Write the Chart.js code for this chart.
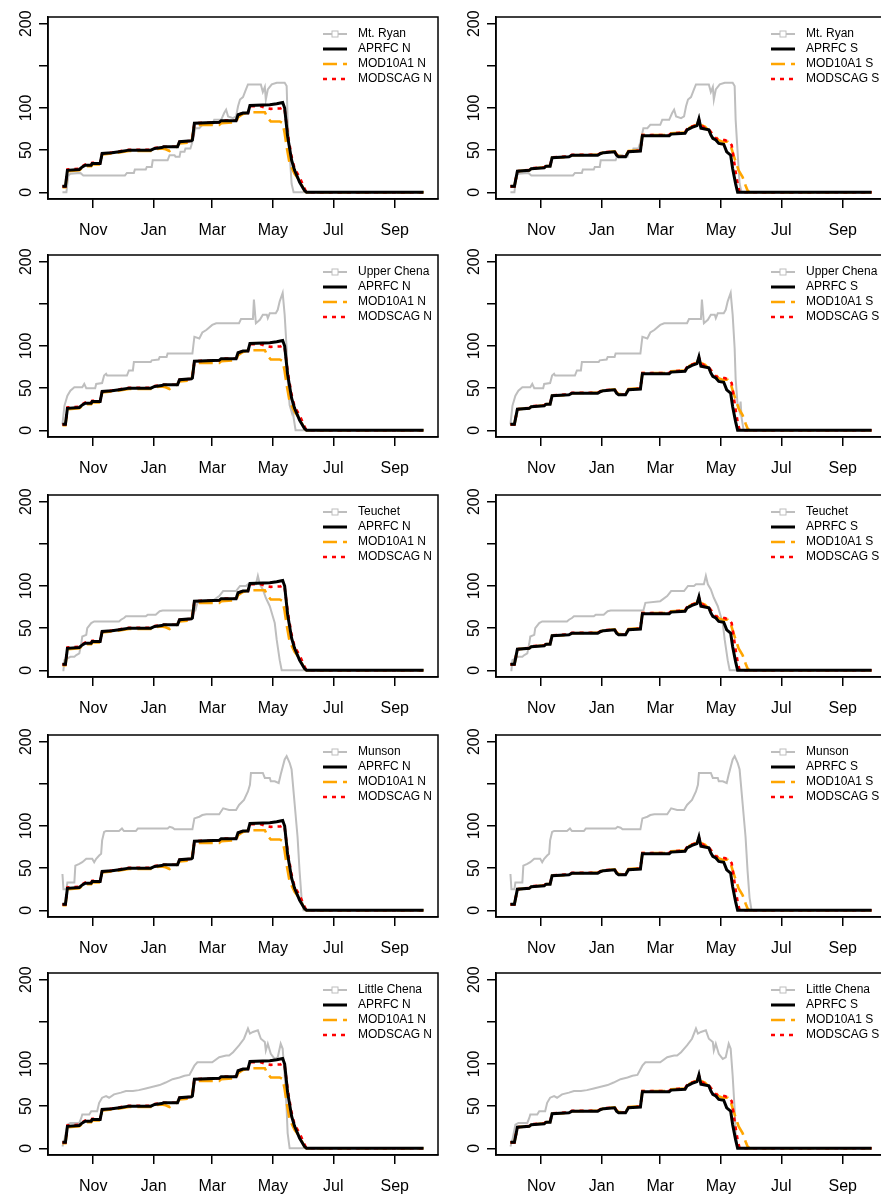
<!DOCTYPE html>
<html>
<head>
<meta charset="utf-8">
<script src="https://cdn.jsdelivr.net/npm/chart.js@4.4.0/dist/chart.umd.min.js"></script>
<style>
  html, body { margin: 0; padding: 0; background: #fff; overflow: hidden; }
  #grid { position: relative; width: 881px; height: 1195px; overflow: hidden; }
  #grid canvas { position: absolute; }
</style>
</head>
<body>
<div id="grid"></div>
<script>
// x = day of the water year (0 = Oct 1), y = value
const MONTH_LABELS = ['Nov', 'Jan', 'Mar', 'May', 'Jul', 'Sep'];
const MONTH_DAYS = [31, 92, 151, 212, 273, 335];
const Y_TICKS = [0, 50, 100, 150, 200];
const Y_LABELS = ['0', '50', '100', '', '200'];
const STATIONS = ['Mt. Ryan', 'Upper Chena', 'Teuchet', 'Munson', 'Little Chena'];
const SIDES = ['N', 'S'];

const MT_RYAN = [[0,0],[4,0],[6,20],[8,22],[18,23],[21,20],[63,20],[65,23],[72,23],[73,27],[84,27],[85,30],[90,30],[91,38],[106,38],[108,44],[113,44],[114,42],[118,42],[119,48],[123,48],[124,52],[129,52],[131,60],[134,76],[138,76],[141,80],[151,80],[153,86],[160,86],[163,94],[165,98],[167,90],[172,88],[175,90],[177,102],[179,110],[182,113],[185,122],[187,128],[200,128],[202,119],[204,125],[205,110],[207,122],[211,128],[216,130],[224,130],[226,126],[227,86],[229,47],[231,10],[233,0],[364,0]];
const UPPER_CHENA = [[0,7],[2,29],[5,41],[8,47],[12,51],[20,51],[22,55],[24,50],[33,50],[34,55],[40,56],[42,65],[44,67],[45,65],[65,65],[67,71],[71,71],[72,81],[89,81],[90,83],[97,84],[98,87],[105,87],[106,91],[131,91],[133,111],[138,109],[141,116],[145,119],[151,125],[155,127],[178,127],[180,132],[192,132],[193,155],[195,127],[199,131],[202,137],[206,137],[207,133],[209,139],[215,139],[217,143],[219,153],[222,163],[224,137],[226,97],[227,61],[229,30],[231,22],[232,34],[233,15],[235,0],[364,0]];
const TEUCHET = [[0,0],[1,0],[2,12],[5,14],[8,16],[12,16],[14,18],[17,20],[19,32],[20,40],[24,42],[25,50],[29,56],[32,58],[57,58],[59,60],[62,62],[64,64],[84,64],[86,66],[94,66],[98,70],[101,71],[134,71],[136,80],[151,82],[158,88],[162,94],[175,94],[179,100],[185,100],[187,102],[195,102],[197,112],[199,102],[202,96],[205,86],[209,76],[212,64],[214,56],[216,36],[219,12],[221,0],[364,0]];
const MUNSON = [[0,43],[1,25],[4,25],[5,33],[12,33],[13,53],[17,55],[20,57],[24,61],[30,61],[32,57],[34,61],[37,65],[39,67],[40,83],[42,93],[44,94],[57,94],[60,97],[62,94],[74,94],[76,97],[106,97],[108,99],[111,98],[113,96],[131,96],[133,109],[138,111],[141,113],[145,114],[158,114],[162,121],[168,119],[175,119],[178,125],[183,131],[187,141],[189,149],[190,163],[202,163],[204,157],[209,157],[210,153],[214,153],[218,151],[220,161],[224,179],[226,183],[229,175],[231,167],[234,127],[237,87],[239,47],[241,15],[243,0],[364,0]];
const LITTLE_CHENA = [[0,2],[2,10],[5,28],[8,30],[17,30],[19,36],[20,40],[27,40],[29,44],[35,44],[37,54],[40,60],[44,62],[47,60],[52,64],[59,66],[64,68],[71,68],[77,69],[84,71],[91,73],[98,75],[104,78],[111,82],[118,84],[123,86],[128,87],[133,98],[136,102],[151,102],[158,108],[165,110],[168,110],[172,114],[178,122],[183,130],[187,142],[189,136],[192,138],[197,140],[200,130],[204,126],[205,116],[207,124],[210,112],[214,106],[217,108],[220,124],[222,118],[224,86],[226,46],[227,18],[229,0],[364,0]];

const APRFC_N = [[0,7],[3,7],[5,26],[17,27],[20,30],[23,32],[29,32],[30,34],[38,34],[40,46],[50,47],[59,48.5],[67,50],[89,50],[93,52],[100,53],[102,54],[116,54],[118,60],[130,61],[131,62],[133,82],[158,83],[160,85],[175,85],[177,92],[182,94],[187,94],[189,103],[209,104],[216,105],[222,106.5],[224,100],[227,66],[231,38],[234,26],[239,12],[244,2],[246,0],[364,0]];
const MOD10A1_N = [[0,6],[3,6],[5,25],[17,26],[20,29],[23,31],[29,31],[30,33],[38,33],[40,45],[50,46],[59,47.5],[67,49],[89,49],[93,51],[100,52],[104,51],[108,49],[112,51],[116,55],[118,58],[130,59],[133,80],[158,80],[160,82],[175,83],[177,89],[182,93],[188,95],[204,95],[207,88],[210,84],[219,84],[222,82],[224,70],[226,54],[229,34],[234,22],[239,14],[244,2],[246,0],[364,0]];
const MODSCAG_N = [[0,7],[3,7],[5,27],[17,28],[20,31],[23,33],[29,33],[30,35],[38,35],[40,46],[50,47],[59,49],[67,50.5],[89,50.5],[93,52.5],[100,53.5],[102,54],[116,54],[118,60],[130,61],[131,62],[133,82],[158,83],[160,85],[175,85],[177,92],[182,94],[187,94],[189,102],[200,102],[205,100],[210,99],[220,99.5],[222,101],[224,98],[227,70],[231,42],[234,28],[239,18],[242,10],[245,2],[247,0],[364,0]];
const APRFC_S = [[0,7],[4,7],[7,25],[19,26],[21,28],[34,29],[36,31],[40,31],[42,41],[59,42],[62,44],[88,44],[91,46],[94,47],[105,48],[107,44],[109,42],[116,42],[119,48],[131,49],[133,67],[160,67],[162,69],[176,70],[178,74],[183,77],[188,79],[190,87],[192,76],[196,75],[200,74],[202,68],[204,64],[207,62],[210,58],[215,57],[218,48],[222,44],[224,28],[227,10],[229,0],[364,0]];
const MOD10A1_S = [[0,7],[4,7],[7,25],[19,26],[21,28],[34,29.5],[36,31],[40,31.5],[42,41],[59,42],[62,44],[88,44.5],[91,46],[94,47.5],[105,48.5],[107,45],[109,43],[116,43],[119,49],[131,50],[133,68],[160,68],[162,70],[176,71],[178,75],[183,78],[188,80],[190,86],[192,80],[196,78],[201,72],[206,68],[209,62],[214,60],[219,60],[222,55],[226,40],[230,26],[234,18],[237,8],[239,2],[241,0],[364,0]];
const MODSCAG_S = [[0,7],[4,7],[7,25],[19,26.5],[21,28.5],[34,29.5],[36,31.5],[40,31.5],[42,41.5],[59,42.5],[62,44.5],[88,44.5],[91,46.5],[94,47.5],[105,48.5],[107,44.5],[109,42.5],[116,42.5],[119,48.5],[131,49.5],[133,68],[160,68],[162,70],[176,71],[178,75],[183,78],[188,80],[190,86],[192,80],[196,76],[200,75],[204,68],[207,64],[212,62],[216,62],[220,60],[223,56],[225,40],[227,24],[229,10],[231,0],[364,0]];

const STATION_DATA = [MT_RYAN, UPPER_CHENA, TEUCHET, MUNSON, LITTLE_CHENA];
const APRFC = [APRFC_N, APRFC_S];
const MOD10A1 = [MOD10A1_N, MOD10A1_S];
const MODSCAG = [MODSCAG_N, MODSCAG_S];

const FONT = '"Liberation Sans", Arial, sans-serif';
const PANEL_W = 449, PANEL_H = 239;
const COL_LEFT = [0, 448];
const ROW_TOP = [0, 238, 478, 718, 956];

// R-style box round the plot region
const boxPlugin = {
    id: 'plotBox',
    afterDraw(chart) {
        const { ctx, chartArea: a } = chart;
        ctx.save();
        ctx.strokeStyle = '#000';
        ctx.lineWidth = 1.5;
        ctx.strokeRect(a.left, a.top, a.right - a.left, a.bottom - a.top);
        ctx.restore();
    }
};

// legend in the top right corner, drawn like R's legend(bty = "n")
const cornerLegend = {
    id: 'cornerLegend',
    afterDraw(chart) {
        const { ctx, chartArea: a } = chart;
        ctx.save();
        ctx.font = '12px ' + FONT;
        ctx.textBaseline = 'middle';
        chart.data.datasets.forEach((ds, i) => {
            const y = a.top + 17 + i * 15;
            const x0 = a.right - 115, x1 = a.right - 91;
            ctx.strokeStyle = ds.borderColor;
            ctx.lineWidth = ds.borderWidth;
            ctx.setLineDash(ds.borderDash);
            ctx.beginPath();
            ctx.moveTo(x0, y);
            ctx.lineTo(x1, y);
            ctx.stroke();
            ctx.setLineDash([]);
            if (ds.legendMarker) {
                ctx.fillStyle = '#fff';
                ctx.lineWidth = 1;
                ctx.fillRect((x0 + x1) / 2 - 3, y - 3, 6, 6);
                ctx.strokeRect((x0 + x1) / 2 - 3, y - 3, 6, 6);
            }
            ctx.fillStyle = '#000';
            ctx.fillText(ds.label, a.right - 80, y);
        });
        ctx.restore();
    }
};

function makePanel(row, col) {
    const canvas = document.createElement('canvas');
    canvas.width = PANEL_W;
    canvas.height = PANEL_H;
    canvas.style.left = COL_LEFT[col] + 'px';
    canvas.style.top = ROW_TOP[row] + 'px';
    document.getElementById('grid').appendChild(canvas);

    const side = SIDES[col];
    const series = [
        { label: STATIONS[row], data: STATION_DATA[row], color: '#bebebe', width: 2, dash: [], order: 3, marker: true },
        { label: 'APRFC ' + side, data: APRFC[col], color: '#000000', width: 3, dash: [], order: 0 },
        { label: 'MOD10A1 ' + side, data: MOD10A1[col], color: '#ffa500', width: 2.6, dash: [14, 6], order: 2 },
        { label: 'MODSCAG ' + side, data: MODSCAG[col], color: '#ff0000', width: 2.6, dash: [4, 5], order: 1 },
    ];

    const axisGrid = { drawOnChartArea: false, tickLength: 9, color: '#000', lineWidth: 1.5 };
    const axisBorder = { color: '#000', width: 1.5 };

    new Chart(canvas, {
        type: 'line',
        data: {
            datasets: series.map(s => ({
                label: s.label,
                data: s.data.map(([x, y]) => ({ x, y })),
                borderColor: s.color,
                borderWidth: s.width,
                borderDash: s.dash,
                order: s.order,
                pointRadius: 0,
                tension: 0,
                fill: false,
                legendMarker: !!s.marker
            }))
        },
        options: {
            responsive: false,
            animation: false,
            devicePixelRatio: 1,
            layout: { padding: { top: 17, right: 11, left: 0, bottom: 0 } },
            plugins: { legend: { display: false }, tooltip: { enabled: false } },
            scales: {
                x: {
                    type: 'linear',
                    min: -14.56,
                    max: 378.56,
                    afterBuildTicks: s => { s.ticks = MONTH_DAYS.map(v => ({ value: v })); },
                    afterFit: s => { s.height = 40; },
                    grid: axisGrid,
                    border: axisBorder,
                    ticks: {
                        autoSkip: false,
                        maxRotation: 0,
                        padding: 13,
                        color: '#000',
                        font: { family: FONT, size: 16 },
                        callback: (v, i) => MONTH_LABELS[i]
                    }
                },
                y: {
                    min: -8,
                    max: 208,
                    afterBuildTicks: s => { s.ticks = Y_TICKS.map(v => ({ value: v })); },
                    afterFit: s => { s.width = 48; },
                    grid: axisGrid,
                    border: axisBorder,
                    ticks: {
                        autoSkip: false,
                        minRotation: 90,
                        maxRotation: 90,
                        crossAlign: 'center',
                        padding: -1,
                        color: '#000',
                        font: { family: FONT, size: 16 },
                        callback: (v, i) => Y_LABELS[i]
                    }
                }
            }
        },
        plugins: [boxPlugin, cornerLegend]
    });
}

for (let r = 0; r < STATIONS.length; r++) {
    makePanel(r, 0);
    makePanel(r, 1);
}
</script>
</body>
</html>
